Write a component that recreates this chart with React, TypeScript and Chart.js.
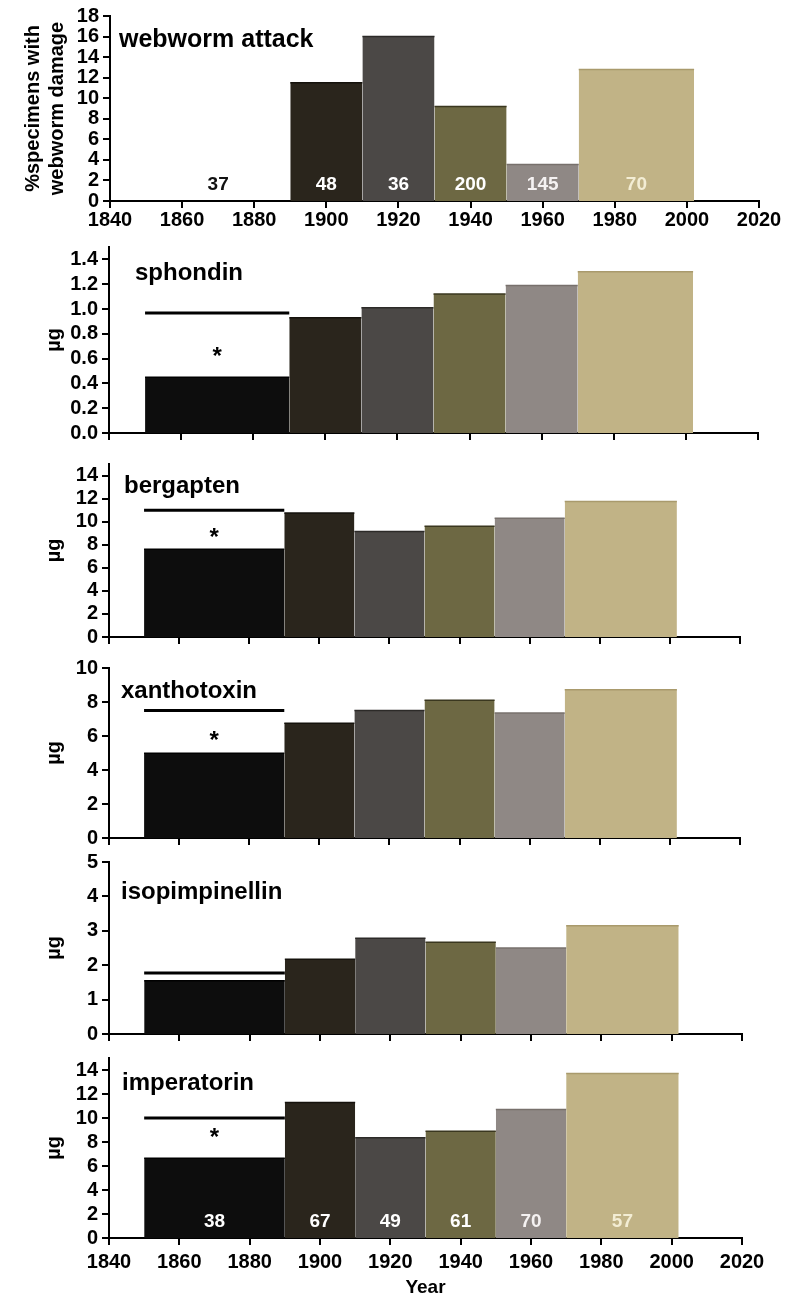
import React, { useEffect, useRef } from "react";
import { Chart, registerables } from "chart.js";

Chart.register(...registerables);

// ---------------- data ----------------
const periodStart = [1850, 1890, 1910, 1930, 1950, 1970];
const periodEnd = [1890, 1910, 1930, 1950, 1970, 2002];
const yearTicks = [1840, 1860, 1880, 1900, 1920, 1940, 1960, 1980, 2000, 2020];

const webwormDamage = [0, 11.5, 16.0, 9.2, 3.55, 12.8];
const webwormCounts = [37, 48, 36, 200, 145, 70];
const webwormTicks = [0, 2, 4, 6, 8, 10, 12, 14, 16, 18];

const sphondin = [0.45, 0.93, 1.01, 1.12, 1.19, 1.3];
const sphondinTicks = [0, 0.2, 0.4, 0.6, 0.8, 1.0, 1.2, 1.4];
const bergapten = [7.6, 10.75, 9.15, 9.6, 10.3, 11.75];
const bergaptenTicks = [0, 2, 4, 6, 8, 10, 12, 14];
const xanthotoxin = [4.98, 6.75, 7.5, 8.1, 7.35, 8.72];
const xanthotoxinTicks = [0, 2, 4, 6, 8, 10];
const isopimpinellin = [1.55, 2.17, 2.78, 2.67, 2.5, 3.15];
const isopimpinellinTicks = [0, 1, 2, 3, 4, 5];
const imperatorin = [6.65, 11.3, 8.35, 8.9, 10.7, 13.7];
const imperatorinTicks = [0, 2, 4, 6, 8, 10, 12, 14];
const chemistryCounts = [38, 67, 49, 61, 70, 57];

const sigSpan = [1850, 1890];
const sphondinSig = 0.967;
const bergaptenSig = 11.0;
const xanthotoxinSig = 7.5;
const isopimpinellinSig = 1.77;
const imperatorinSig = 10.0;

// ---------------- styles ----------------
const FONT = "'Liberation Sans', Arial, Helvetica, sans-serif";
const periodColors = ["#0d0d0d", "#2a251c", "#4b4846", "#6d6843", "#8f8885", "#c1b386"];
const periodEdges = ["#000000", "#15120c", "#2c2a28", "#3a371f", "#77706c", "#a99a6c"];
const webwormCountColors = ["#111111", "#ffffff", "#ffffff", "#ffffff", "#f5f2f2", "#f3edd4"];
const chemCountColors = ["#ffffff", "#ffffff", "#ffffff", "#ffffff", "#f5f2f2", "#f3edd4"];

type PanelCfg = {
  title: string;
  titleSize: number;
  titleX: number;
  titleBaseline: number;
  values: number[];
  yTicks: number[];
  yMax: number;
  decimals: number;
  yTitle: string | string[];
  yTitlePad: number;
  sig?: number;
  star?: number;
  counts?: number[];
  countColors?: string[];
  canvasTop: number;
  chartTop: number;
  chartBottom: number;
  canvasBottom: number;
  left: number;
  right: number;
  showX: boolean;
  xPad: number;
  xTitle?: string;
};

const panels: PanelCfg[] = [
  {
    title: "webworm attack", titleSize: 25, titleX: 119, titleBaseline: 47,
    values: webwormDamage, yTicks: webwormTicks, yMax: 18, decimals: 0,
    yTitle: ["%specimens with", "webworm damage"], yTitlePad: 21,
    counts: webwormCounts, countColors: webwormCountColors,
    canvasTop: 0, chartTop: 15, chartBottom: 201, canvasBottom: 236,
    left: 110, right: 759, showX: true, xPad: 0,
  },
  {
    title: "sphondin", titleSize: 24, titleX: 135, titleBaseline: 280,
    values: sphondin, yTicks: sphondinTicks, yMax: 1.5, decimals: 1,
    yTitle: "µg", yTitlePad: 42, sig: sphondinSig, star: 0.67,
    canvasTop: 231, chartTop: 247, chartBottom: 439, canvasBottom: 449,
    left: 109, right: 758, showX: false, xPad: 0,
  },
  {
    title: "bergapten", titleSize: 24, titleX: 124, titleBaseline: 493,
    values: bergapten, yTicks: bergaptenTicks, yMax: 15, decimals: 0,
    yTitle: "µg", yTitlePad: 42, sig: bergaptenSig, star: 9.2,
    canvasTop: 448, chartTop: 464, chartBottom: 643, canvasBottom: 653,
    left: 109, right: 740, showX: false, xPad: 0,
  },
  {
    title: "xanthotoxin", titleSize: 24, titleX: 121, titleBaseline: 698,
    values: xanthotoxin, yTicks: xanthotoxinTicks, yMax: 10, decimals: 0,
    yTitle: "µg", yTitlePad: 42, sig: xanthotoxinSig, star: 6.08,
    canvasTop: 652, chartTop: 668, chartBottom: 844, canvasBottom: 854,
    left: 109, right: 740, showX: false, xPad: 0,
  },
  {
    title: "isopimpinellin", titleSize: 24, titleX: 121, titleBaseline: 899,
    values: isopimpinellin, yTicks: isopimpinellinTicks, yMax: 5, decimals: 0,
    yTitle: "µg", yTitlePad: 42, sig: isopimpinellinSig,
    canvasTop: 846, chartTop: 862, chartBottom: 1040, canvasBottom: 1050,
    left: 109, right: 742, showX: false, xPad: 0,
  },
  {
    title: "imperatorin", titleSize: 24, titleX: 122, titleBaseline: 1090,
    values: imperatorin, yTicks: imperatorinTicks, yMax: 15, decimals: 0,
    yTitle: "µg", yTitlePad: 42, sig: imperatorinSig, star: 8.9,
    counts: chemistryCounts, countColors: chemCountColors,
    canvasTop: 1042, chartTop: 1058, chartBottom: 1238, canvasBottom: 1297,
    left: 109, right: 742, showX: true, xPad: 5, xTitle: "Year",
  },
];

function Panel({ cfg }: { cfg: PanelCfg }) {
  const ref = useRef<HTMLCanvasElement>(null);
  const H = cfg.canvasBottom - cfg.canvasTop;

  useEffect(() => {
    const canvas = ref.current!;
    const padTop = cfg.chartTop - cfg.canvasTop;
    const xHeight = cfg.canvasBottom - cfg.chartBottom;

    const datasets: any[] = cfg.values.map((v, i) => ({
      type: "line",
      data: [
        { x: periodStart[i], y: v },
        { x: periodEnd[i], y: v },
      ],
      backgroundColor: periodColors[i],
      borderColor: periodEdges[i],
      borderWidth: v === 0 ? 0 : 1.5,
      fill: "origin",
      pointRadius: 0,
      tension: 0,
    }));
    if (cfg.sig !== undefined) {
      datasets.push({
        type: "line",
        data: [
          { x: sigSpan[0], y: cfg.sig },
          { x: sigSpan[1], y: cfg.sig },
        ],
        borderColor: "#000000",
        borderWidth: 3,
        fill: false,
        pointRadius: 0,
      });
    }

    const annot = {
      id: "annot",
      afterDatasetsDraw(chart: any) {
        const { ctx, chartArea } = chart;
        const xs = chart.scales.x;
        const ys = chart.scales.y;
        ctx.save();
        ctx.fillStyle = "#000";
        ctx.textAlign = "left";
        ctx.textBaseline = "alphabetic";
        ctx.font = `bold ${cfg.titleSize}px ${FONT}`;
        ctx.fillText(cfg.title, cfg.titleX, cfg.titleBaseline - cfg.canvasTop);
        if (cfg.star !== undefined) {
          ctx.font = `bold 24px ${FONT}`;
          ctx.textAlign = "center";
          const sx = xs.getPixelForValue((sigSpan[0] + sigSpan[1]) / 2);
          const sy = ys.getPixelForValue(cfg.star);
          ctx.fillText("*", sx, sy + 13.7);
        }
        if (cfg.counts) {
          ctx.font = `bold 19px ${FONT}`;
          ctx.textAlign = "center";
          ctx.textBaseline = "middle";
          cfg.counts.forEach((n, i) => {
            const cx = xs.getPixelForValue((periodStart[i] + periodEnd[i]) / 2);
            ctx.fillStyle = cfg.countColors ? cfg.countColors[i] : "#fff";
            ctx.fillText(String(n), cx, chartArea.bottom - 16);
          });
        }
        ctx.restore();
      },
    };

    const tickFont = { family: FONT, size: 20, weight: "bold" as const };

    const chart = new Chart(canvas, {
      type: "line",
      data: { datasets },
      options: {
        animation: false,
        responsive: false,
        maintainAspectRatio: false,
        events: [],
        layout: { padding: { left: 0, right: 809 - cfg.right, top: padTop, bottom: 0 } },
        plugins: { legend: { display: false }, tooltip: { enabled: false } },
        scales: {
          x: {
            type: "linear",
            position: "bottom",
            min: yearTicks[0],
            max: yearTicks[yearTicks.length - 1],
            afterBuildTicks: (axis: any) => {
              axis.ticks = yearTicks.map((v) => ({ value: v }));
            },
            ticks: {
              display: cfg.showX,
              padding: cfg.xPad,
              color: "#000",
              font: tickFont,
              maxRotation: 0,
              autoSkip: false,
              callback: (v: any) => String(v),
            },
            grid: {
              display: true,
              drawOnChartArea: false,
              drawTicks: true,
              tickLength: 7,
              color: "#000",
              lineWidth: 2,
            },
            border: { display: true, color: "#000", width: 2 },
            title: cfg.xTitle
              ? {
                  display: true,
                  text: cfg.xTitle,
                  color: "#000",
                  font: { family: FONT, size: 19, weight: "bold", lineHeight: 1 },
                  padding: 0,
                }
              : { display: false },
            afterFit: (s: any) => {
              s.height = xHeight;
            },
          } as any,
          y: {
            type: "linear",
            min: 0,
            max: cfg.yMax,
            afterBuildTicks: (axis: any) => {
              axis.ticks = cfg.yTicks.map((v) => ({ value: v }));
            },
            ticks: {
              padding: 4,
              color: "#000",
              font: tickFont,
              autoSkip: false,
              callback: (v: any) => Number(v).toFixed(cfg.decimals),
            },
            grid: {
              display: true,
              drawOnChartArea: false,
              drawTicks: true,
              tickLength: 7,
              color: "#000",
              lineWidth: 2,
            },
            border: { display: true, color: "#000", width: 2 },
            title: {
              display: true,
              text: cfg.yTitle,
              color: "#000",
              font: { family: FONT, size: 20, weight: "bold" },
              padding: { top: cfg.yTitlePad, bottom: 0, left: 0, right: 0 },
            },
            afterFit: (s: any) => {
              s.width = cfg.left;
            },
          } as any,
        },
      },
      plugins: [annot],
    });
    return () => chart.destroy();
  }, []);

  return (
    <canvas
      ref={ref}
      width={809}
      height={H}
      style={{ position: "absolute", left: 0, top: cfg.canvasTop, width: 809, height: H }}
    />
  );
}

export default function App() {
  return (
    <div
      style={{
        position: "absolute",
        left: 0,
        top: 0,
        width: 809,
        height: 1297,
        overflow: "hidden",
        background: "#ffffff",
      }}
    >
      {panels.map((p, i) => (
        <Panel key={i} cfg={p} />
      ))}
    </div>
  );
}
